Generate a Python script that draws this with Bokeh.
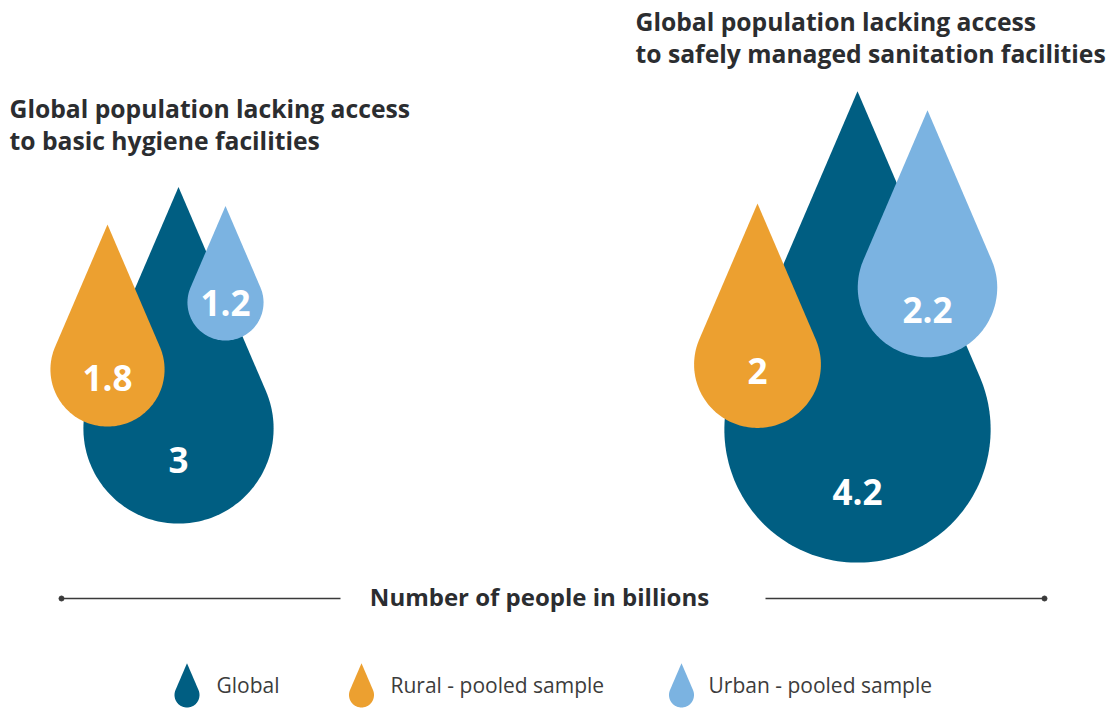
import numpy as np
from bokeh.plotting import figure
from bokeh.models import Range1d, ColumnDataSource
from bokeh.core.properties import value
from bokeh.embed import file_html
from bokeh.resources import INLINE

# ---------------- data ----------------
series = ["Global", "Rural - pooled sample", "Urban - pooled sample"]
hygiene_values = [3.0, 1.8, 1.2]        # billions
sanitation_values = [4.2, 2.0, 2.2]     # billions
hygiene_title = ["Global population lacking access", "to basic hygiene facilities"]
sanitation_title = ["Global population lacking access", "to safely managed sanitation facilities"]
axis_label = "Number of people in billions"

# ---------------- style / layout ----------------
colors = ["#005e82", "#eca030", "#7bb3e1"]
FONT = "Open Sans"
TXT = "#2b2d30"
PX_PER_BILLION = 31.7
TIP_RATIO = 2.54

hyg_cx = [178, 107, 225]
hyg_cy = [428, 369, 302]
hyg_label_dy = [31, 8, 0]
san_cx = [857, 757, 927]
san_cy = [429, 364, 287]
san_label_dy = [62, 6, 22]


def drop(cx, cy, r, k=TIP_RATIO, n=120):
    phi = np.arccos(1.0 / k)
    t = np.linspace(phi, 2 * np.pi - phi, n)
    xs = [cx] + list(cx + r * np.sin(t))
    ys = [cy - k * r] + list(cy - r * np.cos(t))
    return xs, ys


p = figure(width=1106, height=708, x_range=Range1d(0, 1106), y_range=Range1d(708, 0),
           output_backend="svg", toolbar_location=None, min_border=0)
p.axis.visible = False
p.grid.visible = False
p.outline_line_color = None
p.background_fill_color = "white"

# drops
for vals, cxs, cys, dys in [(hygiene_values, hyg_cx, hyg_cy, hyg_label_dy),
                            (sanitation_values, san_cx, san_cy, san_label_dy)]:
    xs_all, ys_all = [], []
    for v, cx, cy in zip(vals, cxs, cys):
        xs, ys = drop(cx, cy, v * PX_PER_BILLION)
        xs_all.append(xs)
        ys_all.append(ys)
    src = ColumnDataSource(dict(xs=xs_all, ys=ys_all, c=colors))
    p.patches("xs", "ys", source=src, fill_color="c", line_color=None)
    labels = [("%g" % v) for v in vals]
    p.text(x=cxs, y=[cy + d for cy, d in zip(cys, dys)], text=labels,
           text_color="white", text_font=value(FONT), text_font_style="bold",
           text_font_size="35px", text_align="center", text_baseline="middle")

# titles
p.text(x=[9, 9], y=[108, 140], text=hygiene_title, text_color=TXT,
       text_font=value(FONT), text_font_style="bold", text_font_size="24.7px",
       text_align="left", text_baseline="middle")
p.text(x=[635, 635], y=[21, 53], text=sanitation_title, text_color=TXT,
       text_font=value(FONT), text_font_style="bold", text_font_size="24.7px",
       text_align="left", text_baseline="middle")

# axis label with lines
p.segment(x0=[61, 765], y0=[598, 598], x1=[340, 1044], y1=[598, 598],
          line_color="#3a3a3a", line_width=1.5)
p.scatter(x=[61, 1044], y=[598, 598], size=5, color="#3a3a3a")
p.text(x=[539], y=[596], text=[axis_label], text_color=TXT,
       text_font=value(FONT), text_font_style="bold", text_font_size="24px",
       text_align="center", text_baseline="middle")

# legend
leg_cx = [186.5, 361, 681]
leg_cy = 694.5
leg_tx = [216, 390, 708]
lx, ly = [], []
for cx in leg_cx:
    xs, ys = drop(cx, leg_cy, 12.5)
    lx.append(xs)
    ly.append(ys)
p.patches(xs=lx, ys=ly, fill_color=colors, line_color=None)
p.text(x=leg_tx, y=[684] * 3, text=series, text_color="#3c3c3c",
       text_font=value(FONT), text_font_size="21px",
       text_align="left", text_baseline="middle")

open("out.html", "w").write(file_html(p, INLINE))
